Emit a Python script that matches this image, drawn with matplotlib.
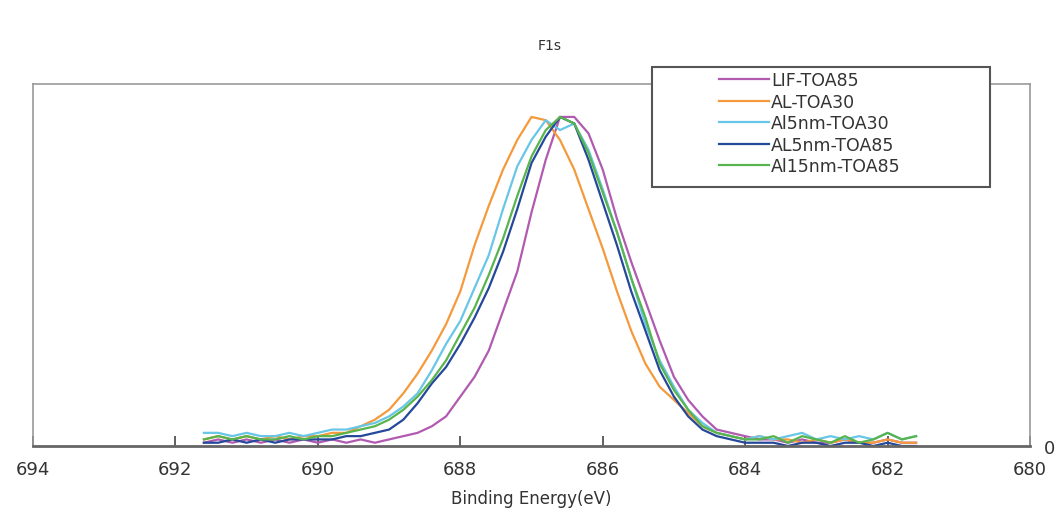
import matplotlib
matplotlib.use("Agg")
import matplotlib.pyplot as plt
from matplotlib.patches import Rectangle

# Binding energy grid (eV), 0.2 eV steps from 691.6 down to 681.6
energia = [691.6, 691.4, 691.2, 691.0, 690.8, 690.6, 690.4, 690.2, 690.0, 689.8,
           689.6, 689.4, 689.2, 689.0, 688.8, 688.6, 688.4, 688.2, 688.0, 687.8,
           687.6, 687.4, 687.2, 687.0, 686.8, 686.6, 686.4, 686.2, 686.0, 685.8,
           685.6, 685.4, 685.2, 685.0, 684.8, 684.6, 684.4, 684.2, 684.0, 683.8,
           683.6, 683.4, 683.2, 683.0, 682.8, 682.6, 682.4, 682.2, 682.0, 681.8,
           681.6]

lif_toa85 = [0.01, 0.02, 0.01, 0.02, 0.01, 0.02, 0.01, 0.02, 0.01, 0.02,
             0.01, 0.02, 0.01, 0.02, 0.03, 0.04, 0.06, 0.09, 0.15, 0.21,
             0.29, 0.41, 0.53, 0.71, 0.87, 1.00, 1.00, 0.95, 0.84, 0.69,
             0.56, 0.44, 0.32, 0.21, 0.14, 0.09, 0.05, 0.04, 0.03, 0.02,
             0.02, 0.01, 0.02, 0.01, 0.01, 0.02, 0.01, 0.01, 0.02, 0.01,
             0.01]

al_toa30 = [0.02, 0.03, 0.02, 0.03, 0.02, 0.03, 0.02, 0.03, 0.03, 0.04,
            0.04, 0.06, 0.08, 0.11, 0.16, 0.22, 0.29, 0.37, 0.47, 0.61,
            0.73, 0.84, 0.93, 1.00, 0.99, 0.93, 0.84, 0.72, 0.60, 0.47,
            0.35, 0.25, 0.18, 0.14, 0.10, 0.06, 0.04, 0.03, 0.02, 0.03,
            0.02, 0.02, 0.01, 0.02, 0.01, 0.02, 0.01, 0.01, 0.02, 0.01,
            0.01]

al5nm_toa30 = [0.04, 0.04, 0.03, 0.04, 0.03, 0.03, 0.04, 0.03, 0.04, 0.05,
               0.05, 0.06, 0.07, 0.09, 0.12, 0.16, 0.23, 0.31, 0.38, 0.48,
               0.58, 0.72, 0.85, 0.93, 0.99, 0.96, 0.98, 0.90, 0.78, 0.65,
               0.51, 0.37, 0.26, 0.18, 0.11, 0.07, 0.04, 0.03, 0.02, 0.03,
               0.02, 0.03, 0.04, 0.02, 0.03, 0.02, 0.03, 0.02, 0.04, 0.02,
               0.03]

al5nm_toa85 = [0.01, 0.01, 0.02, 0.01, 0.02, 0.01, 0.02, 0.02, 0.02, 0.02,
               0.03, 0.03, 0.04, 0.05, 0.08, 0.13, 0.19, 0.24, 0.31, 0.39,
               0.48, 0.59, 0.72, 0.86, 0.94, 1.00, 0.98, 0.87, 0.74, 0.61,
               0.47, 0.35, 0.23, 0.15, 0.09, 0.05, 0.03, 0.02, 0.01, 0.01,
               0.01, 0.00, 0.01, 0.01, 0.00, 0.01, 0.01, 0.00, 0.01, 0.00,
               0.00]

al15nm_toa85 = [0.02, 0.03, 0.02, 0.03, 0.02, 0.02, 0.03, 0.02, 0.03, 0.03,
                0.04, 0.05, 0.06, 0.08, 0.11, 0.15, 0.20, 0.26, 0.34, 0.42,
                0.52, 0.63, 0.76, 0.88, 0.96, 1.00, 0.98, 0.89, 0.77, 0.65,
                0.51, 0.39, 0.25, 0.17, 0.11, 0.06, 0.04, 0.03, 0.02, 0.02,
                0.03, 0.01, 0.03, 0.02, 0.01, 0.03, 0.01, 0.02, 0.04, 0.02,
                0.03]

series = [
    ("LIF-TOA85", lif_toa85, "#b05ab0"),
    ("AL-TOA30", al_toa30, "#f59a3c"),
    ("Al5nm-TOA30", al5nm_toa30, "#68c6e6"),
    ("AL5nm-TOA85", al5nm_toa85, "#24489a"),
    ("Al15nm-TOA85", al15nm_toa85, "#58b44c"),
]

xticks = [694, 692, 690, 688, 686, 684, 682, 680]

fig = plt.figure(figsize=(10.57, 5.10), dpi=100)
ax = fig.add_axes([0.0312, 0.1235, 0.9433, 0.7098])

for nombre, valores, color in series:
    ax.plot(energia, valores, color=color, lw=1.6, label=nombre)

ax.set_xlim(694, 680)
ax.set_ylim(0, 1.10)
ax.set_xticks(xticks)
ax.set_xticklabels([str(t) for t in xticks])
ax.tick_params(axis="x", direction="in", length=7, width=1.2, colors="#444444",
               labelsize=13, pad=10, labelcolor="#333333")
ax.yaxis.tick_right()
ax.set_yticks([0])
ax.set_yticklabels(["0"])
ax.tick_params(axis="y", length=0, labelsize=13, pad=10, labelcolor="#333333")

for lado in ["left", "top", "right"]:
    ax.spines[lado].set_color("#999999")
    ax.spines[lado].set_linewidth(1.2)
ax.spines["bottom"].set_color("#666666")
ax.spines["bottom"].set_linewidth(2.0)

ax.set_xlabel("Binding Energy(eV)", fontsize=12, color="#333333", labelpad=8)
fig.text(0.52, 0.91, "F1s", ha="center", va="center", fontsize=10, color="#333333")

# caja de la leyenda
caja = Rectangle((0.6168, 0.6314), 0.3198, 0.2353, transform=fig.transFigure,
                 facecolor="white", edgecolor="#555555", lw=1.5, zorder=4)
fig.patches.append(caja)
leg = fig.legend(loc="upper left", bbox_to_anchor=(0.672, 0.875), frameon=False,
                 fontsize=12.5, handlelength=2.9, handletextpad=0.1,
                 labelspacing=0.2, borderpad=0)
leg.set_zorder(6)
for t in leg.get_texts():
    t.set_color("#333333")

fig.savefig("out.png", dpi=100)
